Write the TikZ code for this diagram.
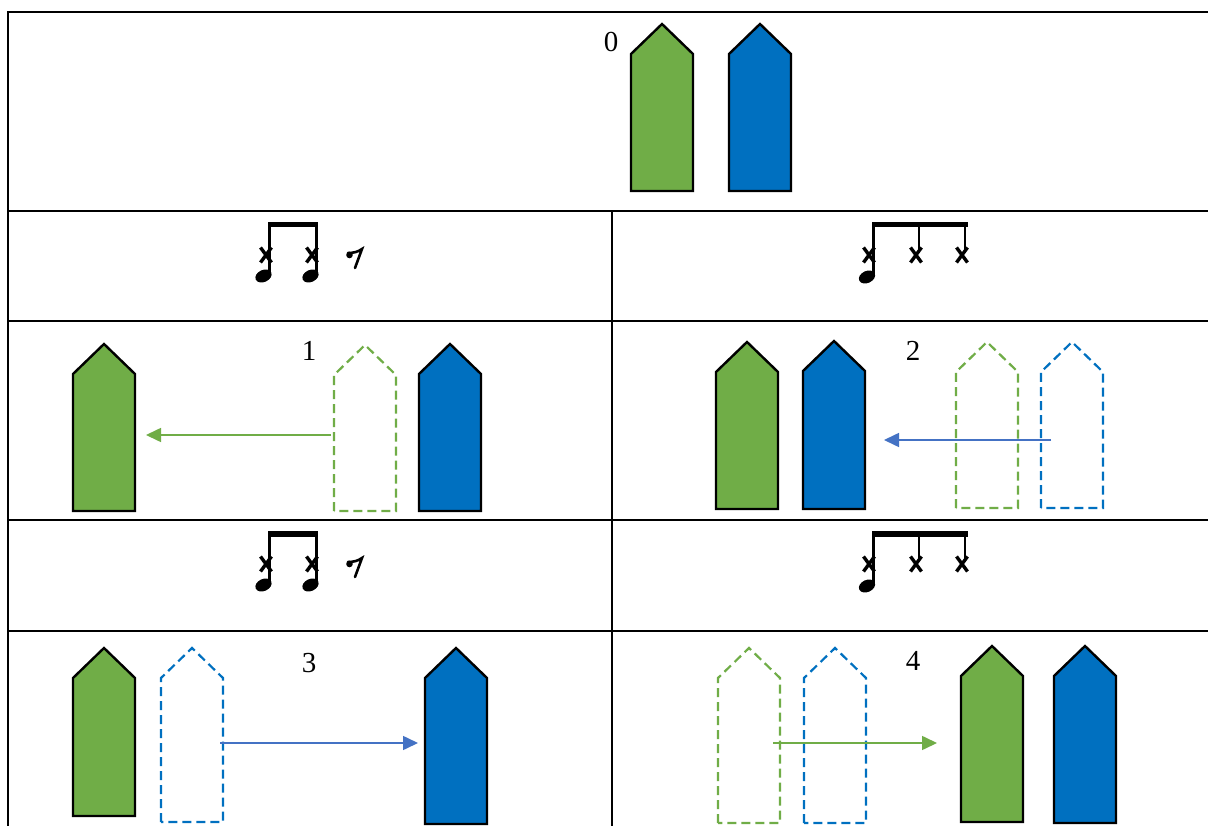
\documentclass[tikz,border=0pt]{standalone}
\usepackage{fontspec}
\setmainfont{Liberation Serif}
\usetikzlibrary{arrows.meta}

\begin{document}
\begin{tikzpicture}[x=1pt,y=-1pt]
  % Step table: each rhythm row moves one or two markers to a new place.
  \definecolor{leaf}{HTML}{70AD47}
  \definecolor{sea}{HTML}{0070C0}
  \definecolor{slate}{HTML}{4472C4}
  \useasboundingbox (0,0) rectangle (1208,826);
  \fill[white] (0,0) rectangle (1208,826);

  \tikzset{rule/.style={line width=2.4pt},
           gfull/.style={fill=leaf,draw=black,line width=2.4pt,line join=miter},
           bfull/.style={fill=sea,draw=black,line width=2.4pt,line join=miter},
           gghost/.style={draw=leaf,line width=2.2pt,dash pattern=on 9pt off 5pt},
           bghost/.style={draw=sea,line width=2.2pt,dash pattern=on 9pt off 5pt},
           move/.style={line width=1.6pt,-{Triangle[length=15pt,width=14pt]}},
           stepnum/.style={font=\fontsize{29}{32}\selectfont,inner sep=0pt},
           stem/.style={line width=2.2pt},
           xhead/.style={line width=3.4pt}}

  % table rules
  \draw[rule] (1208,12) -- (8,12) -- (8,826);
  \foreach \y in {211,321,520,631}
    \draw[rule] (8,\y) -- (1208,\y);
  \draw[rule] (612,211) -- (612,826);

  % markers: left edge / apex / bottom / look
  \foreach \x/\t/\b/\s in {631/24/191/gfull, 729/24/191/bfull,
      73/344/511/gfull, 334/345/511/gghost, 419/344/511/bfull,
      716/342/509/gfull, 803/341/509/bfull, 956/342/508/gghost, 1041/342/508/bghost,
      73/648/816/gfull, 161/648/822/bghost, 425/648/824/bfull,
      718/648/823/gghost, 804/648/823/bghost, 961/646/822/gfull, 1054/646/823/bfull}
    \draw[\s] (\x,\b) -- (\x,\t+30) -- (\x+31,\t) -- (\x+62,\t+30) -- (\x+62,\b) -- cycle;

  \node[stepnum] (n0) at (611,42) {0};
  \node[stepnum] (n1) at (309,351) {1};
  \node[stepnum] (n2) at (913,351) {2};
  \node[stepnum] (n3) at (309,663) {3};
  \node[stepnum] (n4) at (913,661) {4};

  % moves
  \coordinate (m1a) at (331,435);  \coordinate (m1b) at (146,435);
  \coordinate (m2a) at (1051,440); \coordinate (m2b) at (884,440);
  \coordinate (m3a) at (220,743);  \coordinate (m3b) at (418,743);
  \coordinate (m4a) at (773,743);  \coordinate (m4b) at (937,743);
  \draw[move,leaf] (m1a) -- (m1b);
  \draw[move,slate] (m2a) -- (m2b);
  \draw[move,slate] (m3a) -- (m3b);
  \draw[move,leaf] (m4a) -- (m4b);

  % rhythms, same in both rows
  \foreach \dy in {0,309} {
    \begin{scope}[shift={(0,\dy)}]
      % two beamed eighths and a rest
      \fill (268,222) rectangle (318,227.5);
      \draw[stem] (269.5,224) -- (269.5,273) (316.5,224) -- (316.5,273);
      \fill[rotate around={25:(263.5,276)}] (263.5,276) ellipse (8.5 and 6);
      \fill[rotate around={25:(310.5,276)}] (310.5,276) ellipse (8.5 and 6);
      \draw[xhead] (266,255) +(-5.5,-7.5) -- +(5.5,7.5) +(-5.5,7.5) -- +(5.5,-7.5);
      \draw[xhead] (312,255) +(-5.5,-7.5) -- +(5.5,7.5) +(-5.5,7.5) -- +(5.5,-7.5);
      \fill (349.5,255) circle (3.3);
      \draw[line width=2.6pt,line cap=round] (348,253) .. controls (353,253) and (358,252) .. (362,249) -- (355,268);
      % three beamed eighths
      \fill (872,222) rectangle (968,227.5);
      \draw[stem] (873.5,224) -- (873.5,274) (919,224) -- (919,250) (965,224) -- (965,250);
      \fill[rotate around={25:(867,277)}] (867,277) ellipse (8.5 and 6);
      \draw[xhead] (869,255) +(-5.5,-7.5) -- +(5.5,7.5) +(-5.5,7.5) -- +(5.5,-7.5);
      \draw[xhead] (916,255) +(-5.5,-7.5) -- +(5.5,7.5) +(-5.5,7.5) -- +(5.5,-7.5);
      \draw[xhead] (962,255) +(-5.5,-7.5) -- +(5.5,7.5) +(-5.5,7.5) -- +(5.5,-7.5);
    \end{scope}
  }
\end{tikzpicture}
\end{document}
